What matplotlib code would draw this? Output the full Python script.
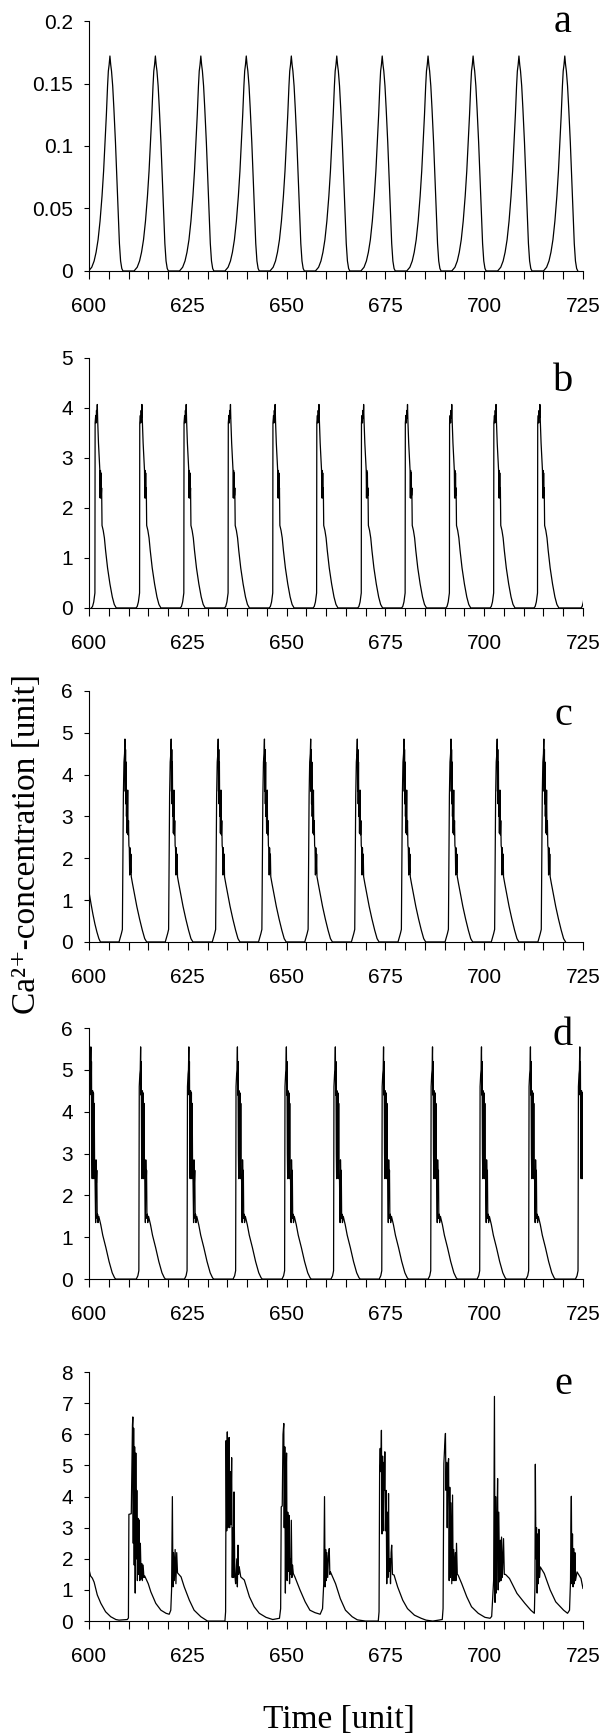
import matplotlib
matplotlib.use("Agg")
import matplotlib.pyplot as plt
from matplotlib.ticker import MultipleLocator

plt.rcParams['font.family'] = ['Liberation Sans', 'DejaVu Sans']

# ---- panel a: smooth oscillations (one cycle shape, repeated at each peak) ----
a_peaks = [605.3, 616.8, 628.3, 639.8, 651.2, 662.7, 674.2, 685.8, 697.2, 708.8, 720.4]
a_dt = [-5.4, -4.6, -4.0, -3.5, -3.0, -2.5, -2.0, -1.6, -1.2, -0.9, -0.6, -0.4, -0.2, 0.0,
        0.2, 0.4, 0.7, 1.0, 1.4, 1.8, 2.1, 2.4, 2.7, 3.0, 3.3]
a_val = [0.0, 0.003, 0.008, 0.015, 0.025, 0.04, 0.06, 0.08, 0.105, 0.125, 0.148, 0.16, 0.165, 0.172,
         0.165, 0.16, 0.148, 0.13, 0.103, 0.07, 0.045, 0.022, 0.008, 0.002, 0.0]

# ---- panel b ----
b_peaks = [602.1, 613.4, 624.6, 635.8, 647.1, 658.2, 669.5, 680.6, 691.8, 703.0, 714.1, 726.0]
b_dt = [-1.5, -1.2, -0.9, -0.7, -0.6, -0.55, -0.4, -0.3, -0.2, -0.1, 0.0, 0.1, 0.3, 0.5, 0.65,
        0.72, 0.8, 0.88, 0.95, 1.02, 1.1, 1.2, 1.5, 1.8, 2.1, 2.6, 3.2, 3.8, 4.3, 4.8]
b_val = [0.0, 0.03, 0.12, 0.25, 0.3, 3.7, 3.85, 3.7, 3.95, 3.8, 4.07, 3.75, 3.3, 3.0, 2.75,
         2.2, 2.75, 2.2, 2.7, 2.25, 2.4, 1.65, 1.55, 1.4, 1.15, 0.8, 0.48, 0.22, 0.07, 0.0]

# ---- panel c ----
c_start_t = [600.0, 600.5, 601.0, 601.5, 602.0, 602.5, 602.9]
c_start_v = [1.2, 0.92, 0.66, 0.43, 0.24, 0.08, 0.0]
c_peaks = [609.1, 620.8, 632.7, 644.4, 656.1, 667.9, 679.7, 691.6, 703.3, 715.1]
c_dt = [-1.5, -0.9, -0.65, -0.4, -0.25, -0.1, 0.0, 0.08, 0.15, 0.22, 0.3, 0.38, 0.45, 0.55, 0.7,
        0.8, 0.9, 1.0, 1.1, 1.2, 1.3, 1.4, 1.5, 1.6, 1.9, 2.4, 3.0, 3.7, 4.4, 5.0, 5.5]
c_val = [0.0, 0.2, 0.3, 3.5, 4.3, 4.5, 4.85, 3.6, 4.6, 3.3, 4.3, 3.0, 3.5, 2.6, 3.63,
         2.56, 2.9, 2.3, 2.25, 1.6, 2.25, 1.65, 2.1, 1.56, 1.4, 1.15, 0.85, 0.55, 0.28, 0.08, 0.0]

# ---- panel d ----
d_peaks = [600.48, 613.07, 625.27, 637.56, 649.95, 662.34, 674.54, 686.93, 699.32, 711.71, 724.2]
d_dt = [-1.1, -0.7, -0.45, -0.35, -0.2, -0.1, 0.0, 0.08, 0.15, 0.25, 0.33, 0.45, 0.55, 0.65, 0.75,
        0.85, 0.95, 1.05, 1.2, 1.3, 1.4, 1.5, 1.6, 1.7, 1.8, 2.0, 2.5, 3.0, 3.8, 4.6, 5.4, 6.0, 6.3]
d_val = [0.0, 0.08, 0.2, 4.6, 4.9, 5.0, 5.55, 4.4, 5.2, 3.0, 2.4, 4.5, 2.6, 4.45, 2.4,
         4.2, 2.5, 2.4, 1.35, 2.85, 2.3, 2.6, 1.45, 1.55, 1.35, 1.5, 1.3, 1.05, 0.75, 0.42, 0.15, 0.03, 0.0]

# ---- panel e: irregular bursting trace ----
e_t = [600.0, 600.4, 600.85, 601.3, 602.1, 603.0, 604.2, 605.5, 606.8, 607.6, 609.7, 609.98,
       610.1, 610.7, 610.85, 611.0, 611.1, 611.2, 611.3, 611.45, 611.55, 611.7, 611.85, 612.0,
       612.1, 612.25, 612.4, 612.55, 612.7, 612.85, 613.0, 613.2, 613.35, 613.5, 613.7, 613.9,
       614.1, 615.0, 615.65, 616.9, 618.2, 619.5, 620.3, 620.7, 620.9, 621.1, 621.25, 621.4,
       621.6, 621.8, 622.0, 622.2, 622.4, 623.3, 624.1, 625.4, 626.6, 628.3, 629.6, 630.0,
       634.4, 634.57, 634.7, 634.85, 635.0, 635.15, 635.3, 635.45, 635.6, 635.75, 635.9, 636.1,
       636.25, 636.4, 636.6, 636.7, 636.9, 637.1, 637.4, 637.55, 637.7, 637.85, 638.0, 638.4,
       639.3, 640.6, 641.8, 643.1, 644.8, 646.5, 648.2, 648.5, 648.65, 648.9, 649.1, 649.3,
       649.4, 649.55, 649.7, 649.85, 650.0, 650.15, 650.3, 650.45, 650.6, 650.75, 650.9, 651.0,
       651.2, 651.35, 651.5, 651.7, 652.1, 653.4, 654.7, 655.9, 657.2, 658.5, 659.1, 659.4,
       659.6, 659.75, 659.9, 660.05, 660.2, 660.4, 660.6, 660.8, 660.95, 661.1, 662.4, 663.6,
       664.9, 666.6, 667.9, 670.0, 673.2, 673.4, 673.55, 673.7, 673.85, 674.0, 674.15, 674.3,
       674.45, 674.6, 674.75, 674.86, 675.0, 675.2, 675.35, 675.5, 675.65, 675.8, 675.95, 676.15,
       676.3, 676.45, 676.6, 676.8, 677.2, 678.1, 679.4, 680.6, 682.35, 684.05, 685.3, 687.0,
       689.4, 689.6, 689.8, 690.0, 690.2, 690.35, 690.5, 690.65, 690.8, 691.0, 691.15, 691.3,
       691.45, 691.6, 691.8, 692.0, 692.15, 692.3, 692.5, 692.7, 692.85, 693.0, 693.2, 693.4,
       694.3, 695.6, 696.8, 698.5, 700.2, 701.5, 701.9, 702.4, 702.6, 702.75, 702.9, 703.05,
       703.2, 703.4, 703.55, 703.7, 703.9, 704.1, 704.25, 704.4, 704.6, 704.9, 705.1, 705.4,
       706.4, 708.3, 710.3, 711.8, 712.7, 712.85, 712.95, 713.1, 713.25, 713.4, 713.55, 713.7,
       713.85, 714.0, 714.2, 715.2, 716.7, 718.1, 720.1, 721.1, 721.6, 721.85, 721.95, 722.06,
       722.2, 722.35, 722.5, 722.65, 722.8, 722.95, 723.1, 723.5, 724.5, 725.0]
e_v = [1.66, 1.45, 1.38, 1.25, 0.84, 0.57, 0.30, 0.14, 0.05, 0.03, 0.05, 0.10,
       3.43, 3.45, 5.0, 6.3, 6.56, 2.5, 6.2, 1.8, 5.6, 0.9, 5.4, 2.0,
       4.2, 1.3, 3.3, 1.5, 3.25, 1.3, 2.5, 1.35, 1.85, 1.3, 1.8, 1.4,
       1.45, 1.2, 0.94, 0.57, 0.35, 0.25, 0.22, 0.35, 1.0, 4.0, 1.1, 2.2,
       1.3, 2.3, 1.2, 2.2, 1.55, 1.42, 1.1, 0.67, 0.35, 0.14, 0.03, 0.0,
       0.0, 0.3, 5.8, 2.9, 6.08, 3.0, 5.0, 5.9, 3.0, 4.8, 3.1, 5.25,
       1.4, 3.0, 1.4, 4.15, 1.5, 1.2, 2.0, 1.1, 2.44, 1.5, 1.75, 1.42,
       1.32, 0.78, 0.46, 0.25, 0.12, 0.05, 0.09, 0.4, 3.67, 3.7, 6.0, 6.35,
       3.0, 5.6, 0.9, 4.5, 5.4, 1.3, 3.5, 1.6, 3.4, 1.2, 2.0, 1.5,
       3.24, 1.4, 1.8, 1.53, 1.42, 1.0, 0.62, 0.35, 0.27, 0.22, 0.40, 1.2,
       4.0, 1.1, 2.3, 1.3, 2.2, 1.4, 2.1, 2.33, 1.5, 1.58, 1.2, 0.72,
       0.35, 0.14, 0.04, 0.0, 0.0, 0.3, 5.0, 5.55, 4.8, 6.13, 2.8, 5.3,
       2.9, 5.1, 4.2, 5.44, 2.9, 4.2, 1.2, 3.5, 1.4, 4.1, 1.6, 2.0,
       1.2, 2.2, 2.44, 1.5, 1.48, 1.1, 0.67, 0.40, 0.19, 0.09, 0.03, 0.0,
       0.05, 0.4, 5.06, 5.6, 6.03, 4.2, 5.1, 3.0, 5.0, 5.22, 1.3, 4.3,
       1.4, 3.8, 1.2, 4.05, 1.3, 2.3, 1.3, 2.2, 1.3, 2.5, 1.5, 1.48,
       1.21, 0.78, 0.46, 0.25, 0.12, 0.09, 0.15, 1.32, 7.22, 0.6, 4.0, 0.9,
       2.7, 4.58, 1.0, 3.5, 1.26, 2.6, 1.3, 2.7, 1.4, 2.65, 1.5, 1.5,
       1.37, 0.89, 0.57, 0.35, 0.25, 1.1, 5.04, 2.0, 3.0, 0.9, 2.8, 1.2,
       2.95, 1.4, 1.74, 1.53, 1.0, 0.62, 0.35, 0.25, 0.35, 1.3, 3.0, 4.01,
       1.2, 2.8, 1.1, 2.33, 1.2, 2.2, 1.3, 1.58, 1.37, 1.05]

y_ticks = {
    'a': [0, 0.05, 0.1, 0.15, 0.2],
    'b': [0, 1, 2, 3, 4, 5],
    'c': [0, 1, 2, 3, 4, 5, 6],
    'd': [0, 1, 2, 3, 4, 5, 6],
    'e': [0, 1, 2, 3, 4, 5, 6, 7, 8],
}
x_major = [600, 625, 650, 675, 700, 725]


def repeat_cycle(peaks, dt, val):
    ts, vs = [], []
    for p in peaks:
        ts += [p + d for d in dt]
        vs += val
    return ts, vs


a_t, a_v = repeat_cycle(a_peaks, a_dt, a_val)
b_t, b_v = repeat_cycle(b_peaks, b_dt, b_val)
c_t, c_v = repeat_cycle(c_peaks, c_dt, c_val)
c_t, c_v = c_start_t + c_t, c_start_v + c_v
d_t, d_v = repeat_cycle(d_peaks, d_dt, d_val)

series = [('a', a_t, a_v), ('b', b_t, b_v), ('c', c_t, c_v), ('d', d_t, d_v), ('e', e_t, e_v)]

# axes boxes in figure fraction [left, bottom, width, height]
boxes = [
    [0.1466, 0.8439, 0.8138, 0.1440],
    [0.1466, 0.6498, 0.8138, 0.1440],
    [0.1466, 0.4574, 0.8138, 0.1446],
    [0.1466, 0.2632, 0.8138, 0.1446],
    [0.1466, 0.0662, 0.8138, 0.1434],
]
letter_y = [0.9868, 0.780, 0.588, 0.4038, 0.2022]

fig = plt.figure(figsize=(6.07, 17.36), dpi=100)

for (name, t, v), box, ly in zip(series, boxes, letter_y):
    ax = fig.add_axes(box)
    ax.plot(t, v, color='black', linewidth=0.9)
    ax.set_xlim(600, 725)
    ticks = y_ticks[name]
    ax.set_ylim(ticks[0], ticks[-1])
    ax.set_yticks(ticks)
    ax.set_yticklabels([f"{tk:g}" for tk in ticks])
    ax.set_xticks(x_major)
    ax.xaxis.set_minor_locator(MultipleLocator(5))
    for side in ['top', 'right']:
        ax.spines[side].set_visible(False)
    for side in ['left', 'bottom']:
        ax.spines[side].set_linewidth(0.8)
    ax.tick_params(axis='x', which='both', direction='out', length=5.5, width=0.8,
                   pad=13, labelsize=15)
    ax.tick_params(axis='y', which='both', direction='out', length=3.5, width=0.8,
                   pad=8, labelsize=15)
    fig.text(0.9275, ly, name, family='Liberation Serif', fontsize=29,
             ha='center', va='center')

fig.text(0.0445, 0.514, 'Ca\u00b2\u207a-concentration [unit]',
         family=['Liberation Serif', 'DejaVu Serif'],
         fontsize=24, rotation=90, ha='center', va='center')
fig.text(0.5585, 0.0095, 'Time [unit]', family='Liberation Serif', fontsize=24,
         ha='center', va='center')

fig.savefig('out.png', dpi=100)
